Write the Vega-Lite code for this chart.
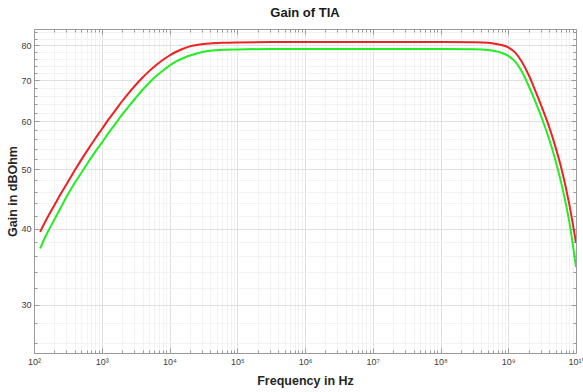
{
  "$schema": "https://vega.github.io/schema/vega-lite/v6.json",
  "width": 542,
  "height": 324,
  "autosize": "none",
  "padding": {"left": 34, "top": 29, "right": 7, "bottom": 39},
  "background": "white",
  "config": {
    "font": "Liberation Sans",
    "view": {"stroke": null},
    "title": {"font": "Liberation Sans", "fontSize": 13, "fontWeight": "bold", "color": "#1a1a1a"}
  },
  "title": {"text": "Gain of TIA", "anchor": "middle", "offset": 8},
  "datasets": {
    "gain": [
      {"f": 123, "g": 39.5, "s": "Gain 1"},
      {"f": 158, "g": 41.7, "s": "Gain 1"},
      {"f": 200, "g": 43.7, "s": "Gain 1"},
      {"f": 251, "g": 45.7, "s": "Gain 1"},
      {"f": 316, "g": 47.7, "s": "Gain 1"},
      {"f": 398, "g": 49.8, "s": "Gain 1"},
      {"f": 501, "g": 51.9, "s": "Gain 1"},
      {"f": 631, "g": 54.0, "s": "Gain 1"},
      {"f": 794, "g": 56.1, "s": "Gain 1"},
      {"f": 1000, "g": 58.2, "s": "Gain 1"},
      {"f": 1259, "g": 60.4, "s": "Gain 1"},
      {"f": 1585, "g": 62.5, "s": "Gain 1"},
      {"f": 1995, "g": 64.7, "s": "Gain 1"},
      {"f": 2512, "g": 66.8, "s": "Gain 1"},
      {"f": 3162, "g": 68.8, "s": "Gain 1"},
      {"f": 3981, "g": 70.7, "s": "Gain 1"},
      {"f": 5012, "g": 72.5, "s": "Gain 1"},
      {"f": 6310, "g": 74.1, "s": "Gain 1"},
      {"f": 7943, "g": 75.6, "s": "Gain 1"},
      {"f": 10000, "g": 76.9, "s": "Gain 1"},
      {"f": 12589, "g": 78.0, "s": "Gain 1"},
      {"f": 15849, "g": 78.9, "s": "Gain 1"},
      {"f": 19953, "g": 79.6, "s": "Gain 1"},
      {"f": 25119, "g": 80.0, "s": "Gain 1"},
      {"f": 31623, "g": 80.3, "s": "Gain 1"},
      {"f": 39811, "g": 80.5, "s": "Gain 1"},
      {"f": 63096, "g": 80.7, "s": "Gain 1"},
      {"f": 100000, "g": 80.8, "s": "Gain 1"},
      {"f": 316228, "g": 80.9, "s": "Gain 1"},
      {"f": 1000000, "g": 80.9, "s": "Gain 1"},
      {"f": 10000000, "g": 80.9, "s": "Gain 1"},
      {"f": 100000000, "g": 80.9, "s": "Gain 1"},
      {"f": 316200000, "g": 80.85, "s": "Gain 1"},
      {"f": 501200000, "g": 80.7, "s": "Gain 1"},
      {"f": 631000000, "g": 80.4, "s": "Gain 1"},
      {"f": 794300000, "g": 80.0, "s": "Gain 1"},
      {"f": 1000000000, "g": 79.3, "s": "Gain 1"},
      {"f": 1259000000, "g": 77.8, "s": "Gain 1"},
      {"f": 1585000000, "g": 75.1, "s": "Gain 1"},
      {"f": 1995000000, "g": 71.5, "s": "Gain 1"},
      {"f": 2512000000, "g": 67.3, "s": "Gain 1"},
      {"f": 3162000000, "g": 63.1, "s": "Gain 1"},
      {"f": 3981000000, "g": 58.9, "s": "Gain 1"},
      {"f": 5012000000, "g": 54.3, "s": "Gain 1"},
      {"f": 6310000000, "g": 49.4, "s": "Gain 1"},
      {"f": 7943000000, "g": 43.9, "s": "Gain 1"},
      {"f": 10000000000, "g": 37.9, "s": "Gain 1"},
      {"f": 123, "g": 37.1, "s": "Gain 2"},
      {"f": 158, "g": 39.4, "s": "Gain 2"},
      {"f": 200, "g": 41.4, "s": "Gain 2"},
      {"f": 251, "g": 43.4, "s": "Gain 2"},
      {"f": 316, "g": 45.5, "s": "Gain 2"},
      {"f": 398, "g": 47.5, "s": "Gain 2"},
      {"f": 501, "g": 49.4, "s": "Gain 2"},
      {"f": 631, "g": 51.4, "s": "Gain 2"},
      {"f": 794, "g": 53.4, "s": "Gain 2"},
      {"f": 1000, "g": 55.3, "s": "Gain 2"},
      {"f": 1259, "g": 57.4, "s": "Gain 2"},
      {"f": 1585, "g": 59.4, "s": "Gain 2"},
      {"f": 1995, "g": 61.5, "s": "Gain 2"},
      {"f": 2512, "g": 63.5, "s": "Gain 2"},
      {"f": 3162, "g": 65.5, "s": "Gain 2"},
      {"f": 3981, "g": 67.5, "s": "Gain 2"},
      {"f": 5012, "g": 69.4, "s": "Gain 2"},
      {"f": 6310, "g": 71.1, "s": "Gain 2"},
      {"f": 7943, "g": 72.6, "s": "Gain 2"},
      {"f": 10000, "g": 74.0, "s": "Gain 2"},
      {"f": 12589, "g": 75.2, "s": "Gain 2"},
      {"f": 15849, "g": 76.1, "s": "Gain 2"},
      {"f": 19953, "g": 76.9, "s": "Gain 2"},
      {"f": 25119, "g": 77.5, "s": "Gain 2"},
      {"f": 31623, "g": 78.0, "s": "Gain 2"},
      {"f": 39811, "g": 78.3, "s": "Gain 2"},
      {"f": 63096, "g": 78.6, "s": "Gain 2"},
      {"f": 100000, "g": 78.7, "s": "Gain 2"},
      {"f": 316228, "g": 78.8, "s": "Gain 2"},
      {"f": 1000000, "g": 78.8, "s": "Gain 2"},
      {"f": 10000000, "g": 78.8, "s": "Gain 2"},
      {"f": 100000000, "g": 78.8, "s": "Gain 2"},
      {"f": 316200000, "g": 78.75, "s": "Gain 2"},
      {"f": 501200000, "g": 78.5, "s": "Gain 2"},
      {"f": 631000000, "g": 78.2, "s": "Gain 2"},
      {"f": 794300000, "g": 77.7, "s": "Gain 2"},
      {"f": 1000000000, "g": 76.8, "s": "Gain 2"},
      {"f": 1259000000, "g": 75.2, "s": "Gain 2"},
      {"f": 1585000000, "g": 72.4, "s": "Gain 2"},
      {"f": 1995000000, "g": 68.6, "s": "Gain 2"},
      {"f": 2512000000, "g": 64.6, "s": "Gain 2"},
      {"f": 3162000000, "g": 60.5, "s": "Gain 2"},
      {"f": 3981000000, "g": 56.2, "s": "Gain 2"},
      {"f": 5012000000, "g": 51.6, "s": "Gain 2"},
      {"f": 6310000000, "g": 46.6, "s": "Gain 2"},
      {"f": 7943000000, "g": 41.1, "s": "Gain 2"},
      {"f": 10000000000, "g": 34.6, "s": "Gain 2"}
    ]
  },
  "data": {"name": "gain"},
  "resolve": {"axis": {"x": "independent", "y": "independent"}},
  "layer": [
    {
      "mark": {"type": "line", "strokeWidth": 2, "interpolate": "monotone", "clip": true},
      "encoding": {
        "x": {
          "field": "f", "type": "quantitative",
          "scale": {"type": "log", "domain": [100, 10000000000], "nice": false},
          "axis": {
            "orient": "bottom",
            "title": "Frequency in Hz",
            "titleFont": "Liberation Sans", "titleFontSize": 12.5, "titleFontWeight": "bold", "titleColor": "#262626",
            "titlePadding": 6,
            "values": [100,200,300,400,500,600,700,800,900,1000,2000,3000,4000,5000,6000,7000,8000,9000,10000,20000,30000,40000,50000,60000,70000,80000,90000,100000,200000,300000,400000,500000,600000,700000,800000,900000,1000000,2000000,3000000,4000000,5000000,6000000,7000000,8000000,9000000,10000000,20000000,30000000,40000000,50000000,60000000,70000000,80000000,90000000,100000000,200000000,300000000,400000000,500000000,600000000,700000000,800000000,900000000,1000000000,2000000000,3000000000,4000000000,5000000000,6000000000,7000000000,8000000000,9000000000,10000000000],
            "labelExpr": "abs(log(datum.value)/LN10 - round(log(datum.value)/LN10)) < 1e-6 ? ['10⁰','10¹','10²','10³','10⁴','10⁵','10⁶','10⁷','10⁸','10⁹','10¹⁰'][round(log(datum.value)/LN10)] : ''",
            "labelOverlap": false,
            "labelBound": false,
            "labelFlush": false,
            "labelFont": "Liberation Sans", "labelFontSize": 9, "labelColor": "#404040",
            "labelPadding": 9,
            "domainColor": "#9a9a9a",
            "tickColor": "#9a9a9a",
            "tickSize": {"condition": {"test": "abs(log(datum.value)/LN10 - round(log(datum.value)/LN10)) < 1e-6", "value": -5}, "value": -3},
            "grid": true,
            "gridColor": {"condition": {"test": "abs(log(datum.value)/LN10 - round(log(datum.value)/LN10)) < 1e-6", "value": "#e0e0e0"}, "value": "#f2f2f2"},
            "gridWidth": 1
          }
        },
        "y": {
          "field": "g", "type": "quantitative",
          "scale": {"type": "log", "domain": [25, 85], "nice": false, "zero": false},
          "axis": {
            "orient": "left",
            "title": "Gain in dBOhm",
            "titleFont": "Liberation Sans", "titleFontSize": 12.5, "titleFontWeight": "bold", "titleColor": "#262626",
            "titlePadding": 1,
            "values": [26,28,30,32,34,36,38,40,42,44,46,48,50,52,54,56,58,60,62,64,66,68,70,72,74,76,78,80,82,84],
            "labelExpr": "datum.value % 10 == 0 ? format(datum.value, 'd') : ''",
            "labelOverlap": false,
            "labelBound": false,
            "labelFont": "Liberation Sans", "labelFontSize": 9, "labelColor": "#404040",
            "labelPadding": 8,
            "domainColor": "#9a9a9a",
            "tickColor": "#9a9a9a",
            "tickSize": {"condition": {"test": "datum.value % 10 == 0", "value": -5}, "value": -3},
            "grid": true,
            "gridColor": {"condition": {"test": "datum.value % 10 == 0", "value": "#e0e0e0"}, "value": "#f2f2f2"},
            "gridWidth": 1
          }
        },
        "color": {
          "field": "s", "type": "nominal",
          "scale": {"domain": ["Gain 1", "Gain 2"], "range": ["#ee2222", "#22ee22"]},
          "legend": null
        }
      }
    },
    {
      "mark": {"type": "line", "opacity": 0},
      "encoding": {
        "x": {
          "field": "f", "type": "quantitative",
          "axis": {
            "orient": "top", "title": null, "labels": false, "grid": false,
            "values": [100,200,300,400,500,600,700,800,900,1000,2000,3000,4000,5000,6000,7000,8000,9000,10000,20000,30000,40000,50000,60000,70000,80000,90000,100000,200000,300000,400000,500000,600000,700000,800000,900000,1000000,2000000,3000000,4000000,5000000,6000000,7000000,8000000,9000000,10000000,20000000,30000000,40000000,50000000,60000000,70000000,80000000,90000000,100000000,200000000,300000000,400000000,500000000,600000000,700000000,800000000,900000000,1000000000,2000000000,3000000000,4000000000,5000000000,6000000000,7000000000,8000000000,9000000000,10000000000],
            "domainColor": "#9a9a9a",
            "tickColor": "#9a9a9a",
            "tickSize": {"condition": {"test": "abs(log(datum.value)/LN10 - round(log(datum.value)/LN10)) < 1e-6", "value": -5}, "value": -3}
          }
        },
        "y": {
          "field": "g", "type": "quantitative",
          "axis": {
            "orient": "right", "title": null, "labels": false, "grid": false,
            "values": [26,28,30,32,34,36,38,40,42,44,46,48,50,52,54,56,58,60,62,64,66,68,70,72,74,76,78,80,82,84],
            "domainColor": "#9a9a9a",
            "tickColor": "#9a9a9a",
            "tickSize": {"condition": {"test": "datum.value % 10 == 0", "value": -5}, "value": -3}
          }
        },
        "detail": {"field": "s", "type": "nominal"}
      }
    }
  ]
}
